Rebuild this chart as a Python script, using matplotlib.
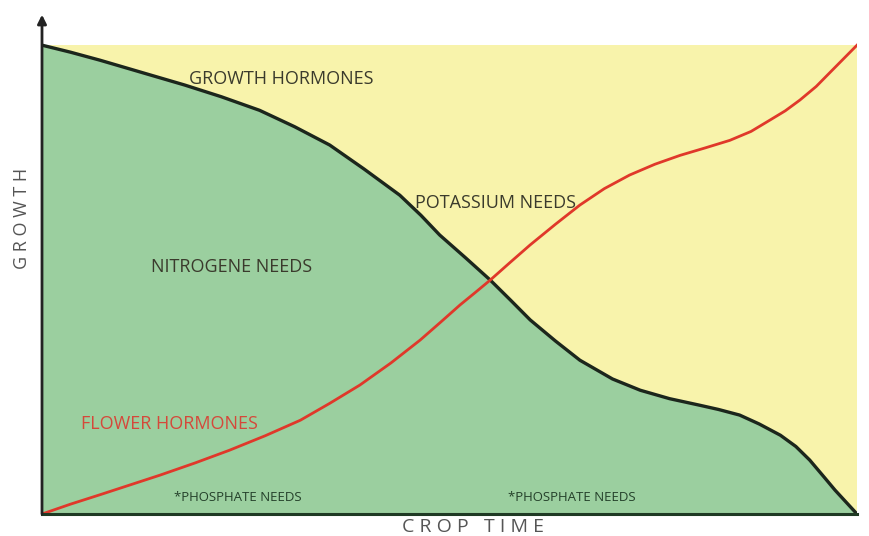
import numpy as np
import matplotlib.pyplot as plt

# growth curve (black, top of the green area)
growth_x = [0, 3.5, 7.1, 12.0, 17.5, 22.0, 26.7, 31.0, 35.3, 39.5, 43.9, 46.5, 48.8, 52.0, 55.0, 57.5,
            59.9, 63.0, 66.0, 70.0, 73.4, 77.0, 80.7, 83.0, 85.6, 88.0, 90.6, 92.5, 94.2, 96.0, 97.3, 100]
growth_y = [100, 98.5, 96.8, 94.3, 91.5, 89.0, 86.1, 82.6, 78.7, 73.6, 68.0, 63.7, 59.5, 54.6, 49.9, 45.6,
            41.4, 36.9, 32.8, 28.8, 26.4, 24.6, 23.2, 22.3, 21.1, 19.2, 16.8, 14.4, 11.5, 7.8, 5.1, 0]

# flower hormones curve (red)
flower_x = [0, 3.5, 7.1, 10.8, 14.5, 18.8, 23.0, 27.4, 31.7, 35.3, 39.0, 42.8, 46.4, 48.9, 51.3, 53.2,
            55.0, 57.4, 59.9, 63.0, 66.0, 69.0, 72.1, 75.2, 78.3, 81.4, 84.4, 87.0, 89.3, 91.2, 93.0, 95.0, 96.7, 100]
flower_y = [0, 2.1, 4.1, 6.2, 8.3, 10.9, 13.6, 16.7, 20.0, 23.6, 27.5, 32.2, 37.1, 40.9, 44.6, 47.3,
            49.9, 53.6, 57.4, 61.8, 65.9, 69.4, 72.3, 74.6, 76.5, 78.1, 79.7, 81.6, 84.0, 86.0, 88.3, 91.2, 94.2, 100]

labels = {
    'GROWTH HORMONES': (29.4, 92.7),
    'POTASSIUM NEEDS': (55.6, 66.3),
    'NITROGENE NEEDS': (23.2, 52.6),
    'FLOWER HORMONES': (15.6, 19.2),
}
phosphate_pos = [(24.0, 3.6), (65.0, 3.6)]

yellow = '#f8f3ab'
green = '#9bcf9f'
red = '#e0382a'
dark = '#1c261c'

fig = plt.figure(figsize=(8.7, 5.36), dpi=100)
ax = fig.add_axes([42 / 870, 22 / 536, 815 / 870, 504 / 536])
ax.set_xlim(0, 100)
ax.set_ylim(0, 107.5)
ax.axis('off')

ax.fill_between([0, 100], 0, 100, color=yellow, lw=0)
ax.fill_between(growth_x, 0, growth_y, color=green, lw=0)
ax.plot(growth_x, growth_y, color=dark, lw=2.4, solid_capstyle='round')
ax.plot(flower_x, flower_y, color=red, lw=2.0)

# axes lines
ax.plot([0, 100], [0, 0], color='#1f3a24', lw=2.2, clip_on=False)
ax.annotate('', xy=(0, 106.5), xytext=(0, 0),
            arrowprops=dict(arrowstyle='-|>', color='#222222', lw=2.0,
                            mutation_scale=13, shrinkA=0, shrinkB=0),
            annotation_clip=False)

for txt, (x, y) in labels.items():
    ax.text(x, y, txt, fontsize=13, family='Open Sans', ha='center', va='center',
            color='#d5483a' if txt.startswith('FLOWER') else '#3a3a2c')
for x, y in phosphate_pos:
    ax.text(x, y, '*PHOSPHATE NEEDS', fontsize=9.5, family='Open Sans', ha='center',
            va='center', color='#24402a')

fig.text(473 / 870, 1 - 527 / 536, 'C R O P   T I M E', fontsize=14, family='Open Sans',
         ha='center', va='center', color='#555555')
fig.text(22 / 870, 1 - 218 / 536, 'G R O W T H', fontsize=13, family='Open Sans',
         ha='center', va='center', rotation=90, color='#555555')

fig.savefig('out.png', dpi=100)
